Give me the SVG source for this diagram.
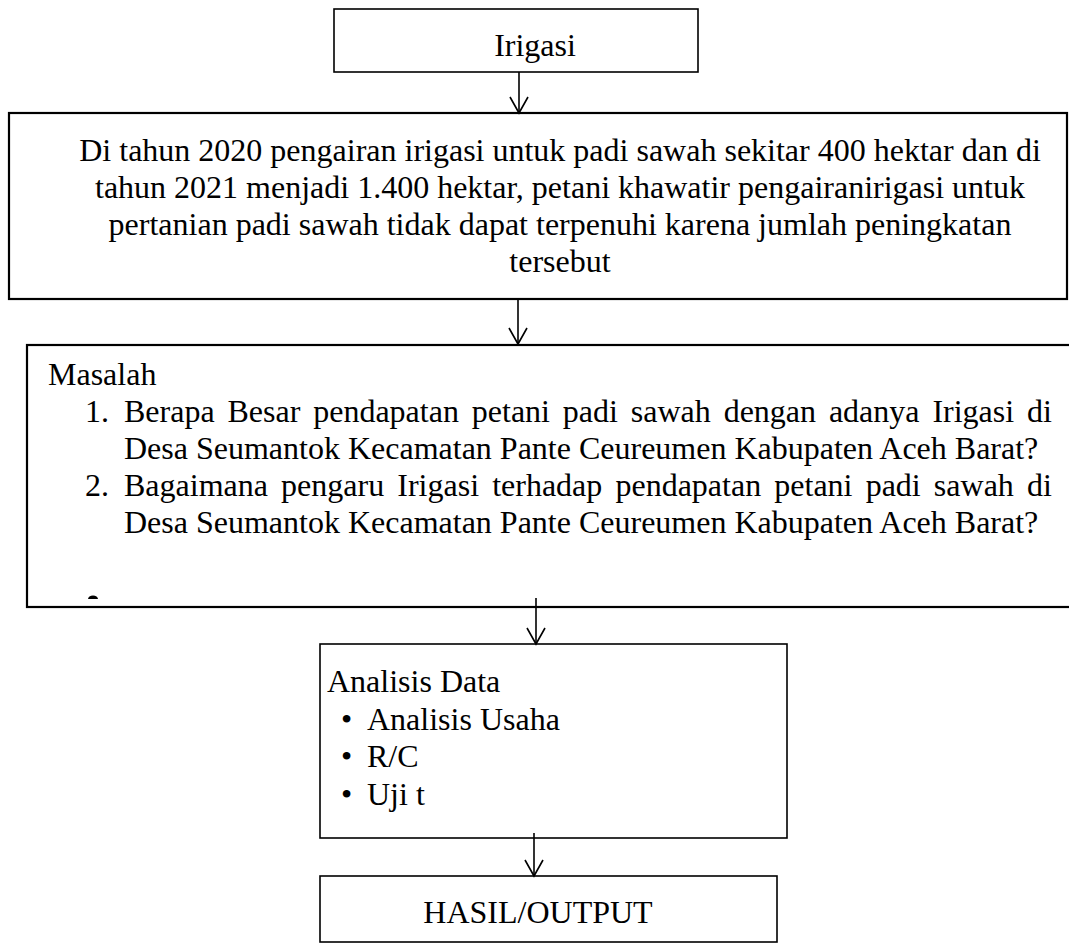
<svg xmlns="http://www.w3.org/2000/svg" width="1069" height="950" viewBox="0 0 1069 950">
<style>
.box{fill:#fff;stroke:#000;stroke-width:1.6}
.thick{stroke-width:2.2}
.t{font-family:"Liberation Serif","Times New Roman",serif;font-size:32px;fill:#000}
.c{text-anchor:middle}
.conn{fill:none;stroke:#000;stroke-width:1.6}
</style>
<defs>
<marker id="arr" markerUnits="userSpaceOnUse" markerWidth="22" markerHeight="22" viewBox="-18 -11 20 22" refX="0" refY="0" orient="auto" overflow="visible">
<path d="M-16,-9 L0,0 L-16,9" fill="none" stroke="#000" stroke-width="1.6"/>
</marker>
</defs>
<rect width="1069" height="950" fill="#fff"/>
<g id="node-irigasi">
<rect class="box" x="334" y="9" width="364" height="63"/>
<text class="t c" x="535" y="56">Irigasi</text>
</g>
<g id="node-latar">
<rect class="box thick" x="9" y="113" width="1058" height="186"/>
<text class="t c" x="560" y="161">Di tahun 2020 pengairan irigasi untuk padi sawah sekitar 400 hektar dan di</text>
<text class="t c" x="560" y="198">tahun 2021 menjadi 1.400 hektar, petani khawatir pengairanirigasi untuk</text>
<text class="t c" x="560" y="235">pertanian padi sawah tidak dapat terpenuhi karena jumlah peningkatan</text>
<text class="t c" x="560" y="272">tersebut</text>
</g>
<g id="node-masalah">
<rect class="box thick" x="27" y="345" width="1060" height="262"/>
<text class="t" x="48" y="385">Masalah</text>
<text class="t" x="85" y="422">1.</text>
<text class="t" x="124" y="422" word-spacing="4.87">Berapa Besar pendapatan petani padi sawah dengan adanya Irigasi di</text>
<text class="t" x="124" y="459">Desa Seumantok Kecamatan Pante Ceureumen Kabupaten Aceh Barat?</text>
<text class="t" x="85" y="496">2.</text>
<text class="t" x="124" y="496" word-spacing="5.14">Bagaimana pengaru Irigasi terhadap pendapatan petani padi sawah di</text>
<text class="t" x="124" y="533">Desa Seumantok Kecamatan Pante Ceureumen Kabupaten Aceh Barat?</text>
<path d="M88,599 A5,3.5 0 0 1 98,599 Z" fill="#000"/>
</g>
<g id="node-analisis">
<rect class="box" x="320" y="644" width="467" height="194"/>
<text class="t" x="327" y="692">Analisis Data</text>
<text class="t" x="341" y="729.5">•</text>
<text class="t" x="367" y="729.5">Analisis Usaha</text>
<text class="t" x="341" y="767">•</text>
<text class="t" x="367" y="767">R/C</text>
<text class="t" x="341" y="804.5">•</text>
<text class="t" x="367" y="804.5">Uji t</text>
</g>
<g id="node-hasil">
<rect class="box" x="320" y="876" width="457" height="66"/>
<text class="t c" x="538" y="923">HASIL/OUTPUT</text>
</g>
<g id="connectors">
<line class="conn" x1="519" y1="72" x2="519" y2="113" marker-end="url(#arr)"/>
<line class="conn" x1="518" y1="299" x2="518" y2="344" marker-end="url(#arr)"/>
<line class="conn" x1="536" y1="598" x2="536" y2="644" marker-end="url(#arr)"/>
<line class="conn" x1="534" y1="833" x2="534" y2="876" marker-end="url(#arr)"/>
</g>
</svg>
